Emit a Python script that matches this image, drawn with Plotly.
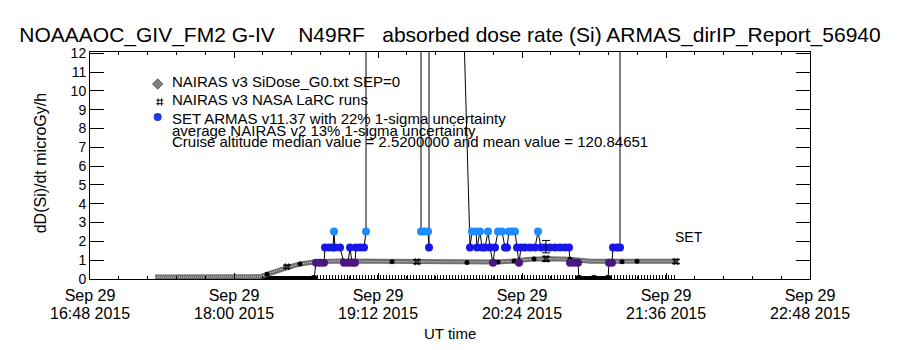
import plotly.graph_objects as go

DAY = "2015-09-29 "


def ts(lst):
    return [None if v is None else DAY + v for v in lst]


# ---------------- data ----------------
# x axis ticks
x_tick_times = ["16:48", "18:00", "19:12", "20:24", "21:36", "22:48"]
x_tick_day = ["Sep 29", "Sep 29", "Sep 29", "Sep 29", "Sep 29", "Sep 29"]
x_tick_clock = ["16:48 2015", "18:00 2015", "19:12 2015", "20:24 2015", "21:36 2015", "22:48 2015"]
y_tick_vals = [0, 1, 2, 3, 4, 5, 6, 7, 8, 9, 10, 11, 12]

# NAIRAS v3 SiDose_G0.txt SEP=0 (microGy/h)
nairas_times = ["17:20:30", "17:43:00", "18:13:00", "18:16:30", "18:21:30", "18:27:00", "18:33:00",
                "18:41:00", "18:53:00", "19:19:00", "19:38:00", "19:56:30", "20:12:00", "20:20:00",
                "20:28:00", "20:38:00", "20:48:00", "20:58:00", "21:14:00", "21:23:00", "21:41:30"]
nairas_dose = [0.10, 0.10, 0.12, 0.25, 0.45, 0.62, 0.80,
               0.92, 0.96, 0.92, 0.90, 0.88, 0.90, 0.96,
               1.05, 1.08, 1.05, 0.95, 0.92, 0.95, 0.95]

# NAIRAS v3 sample points marked on the curve
nairas_pt_times = ["18:16:30", "18:33:00", "18:41:00", "18:54:30", "19:19:00", "19:56:30",
                   "20:12:00", "20:20:00", "20:30:00", "20:48:00", "21:14:00", "21:21:30"]
nairas_pt_dose = [0.25, 0.80, 0.92, 0.96, 0.92, 0.88, 0.90, 0.96, 1.06, 1.05, 0.92, 0.95]

# NAIRAS v3 NASA LaRC runs (with 13% uncertainty)
larc_times = ["18:26:30", "19:31:30", "20:36:00", "21:41:00"]
larc_dose = [0.65, 0.92, 1.07, 0.93]
larc_err = [0.09, 0.12, 0.14, 0.12]

# SET ARMAS v11.37 dose rate (values > 12 are off scale)
armas_times = ["18:40:00", "18:41:00", "18:43:00", "18:45:00", "18:45:30", "18:47:30", "18:49:30",
               "18:50:00", "18:50:30", "18:53:00", "18:55:00", "18:57:00", "18:58:00", "18:59:00",
               "19:00:30", "19:01:00", "19:03:00", "19:05:00", "19:06:00", "19:06:30", "19:33:00",
               "19:33:30", "19:35:00", "19:37:00", "19:37:30", "19:38:00", "19:50:30", "19:58:00",
               "19:59:00", "20:01:00", "20:01:30", "20:03:00", "20:04:00", "20:05:30", "20:07:00",
               "20:08:00", "20:09:30", "20:10:30", "20:12:00", "20:14:00", "20:15:30", "20:16:30",
               "20:17:30", "20:19:00", "20:20:30", "20:21:30", "20:22:30", "20:23:30", "20:25:30",
               "20:28:00", "20:30:30", "20:32:00", "20:33:30", "20:35:30", "20:38:00", "20:40:30",
               "20:43:00", "20:45:30", "20:47:30", "20:48:00", "20:50:00", "20:52:00", "20:52:30",
               "21:00:00", "21:07:00", "21:07:30", "21:09:00", "21:09:30", "21:11:30", "21:13:00",
               "21:13:30"]
armas_dose = [0.0, 0.86, 0.86, 0.86, 1.67, 1.67, 1.67,
              2.52, 1.67, 1.67, 0.86, 0.86, 1.67, 0.86,
              0.86, 1.67, 1.67, 1.67, 2.52, 999.0, 999.0,
              2.52, 2.52, 2.52, 1.67, 999.0, 30.0, 1.67,
              2.52, 2.52, 1.67, 2.52, 1.67, 1.67, 2.52,
              1.67, 0.86, 1.67, 2.52, 2.52, 1.67, 1.67,
              2.52, 2.52, 2.52, 1.67, 0.86, 1.67, 1.67,
              1.67, 1.67, 2.52, 1.67, 1.67, 1.67, 1.67,
              1.67, 1.67, 1.67, 0.86, 0.86, 0.86, 0.0,
              0.0, 0.0, 0.86, 0.86, 1.67, 1.67, 1.67,
              999.0]

# ARMAS cruise mean with 1-sigma bar
armas_mean_time = ["20:36:00"]
armas_mean_dose = [1.72]
armas_mean_err = [0.33]

# zero-dose records along the baseline
base_solid_times = ["17:20:30", "18:41:30", None, "20:52:00", "21:07:00"]
base_solid_dose = [0, 0, None, 0, 0]
base_dot_times = ["18:41:30", "20:52:00", None, "21:07:00", "21:41:00"]
base_dot_dose = [0, 0, None, 0, 0]

title_text = ("NOAAAOC_GIV_FM2 G-IV\u00a0\u00a0\u00a0 N49RF\u00a0\u00a0 absorbed dose rate (Si) "
              "ARMAS_dirIP_Report_56940")
legend_labels = ["NAIRAS v3 SiDose_G0.txt SEP=0",
                 "NAIRAS v3 NASA LaRC runs",
                 "SET ARMAS v11.37 with 22% 1-sigma uncertainty",
                 "average NAIRAS v2 13% 1-sigma uncertainty",
                 "Cruise altitude median value = 2.5200000 and mean value = 120.84651"]

# ---------------- styling ----------------
FONT = "Liberation Sans, Arial, sans-serif"


def armas_color(v):
    if v < 0.5:
        return "#000000"
    if v < 1.2:
        return "#4d1580"
    if v < 2.1:
        return "#1717e8"
    return "#1e8cff"


fig = go.Figure()

fig.add_trace(go.Scatter(x=ts(base_solid_times), y=base_solid_dose, mode="lines",
                         line=dict(color="black", width=6), hoverinfo="skip"))
fig.add_trace(go.Scatter(x=ts(base_dot_times), y=base_dot_dose, mode="lines",
                         line=dict(color="black", width=8, dash="1px,2px"), hoverinfo="skip"))

fig.add_trace(go.Scatter(x=ts(nairas_times), y=nairas_dose, mode="lines",
                         line=dict(color="#6e6e6e", width=5)))
fig.add_trace(go.Scatter(x=ts(nairas_times), y=nairas_dose, mode="lines",
                         line=dict(color="white", width=1, dash="1px,1px"), opacity=0.7,
                         hoverinfo="skip"))
fig.add_trace(go.Scatter(x=ts(nairas_pt_times), y=nairas_pt_dose, mode="markers",
                         marker=dict(color="black", size=5)))

fig.add_trace(go.Scatter(x=ts(larc_times), y=larc_dose, mode="markers",
                         marker=dict(symbol="hash", size=7, color="black",
                                     line=dict(color="black", width=1)),
                         error_y=dict(type="data", array=larc_err, color="black",
                                      thickness=1, width=4)))

fig.add_trace(go.Scatter(x=ts(armas_times), y=armas_dose, mode="lines+markers",
                         line=dict(color="black", width=1),
                         marker=dict(size=8, color=[armas_color(v) for v in armas_dose])))

fig.add_trace(go.Scatter(x=ts(armas_mean_time), y=armas_mean_dose, mode="markers",
                         marker=dict(size=1, color="rgba(0,0,0,0)"),
                         error_y=dict(type="data", array=armas_mean_err, color="black",
                                      thickness=1, width=4)))

# legend symbols (overlay axes in plot-fraction units)
fig.add_trace(go.Scatter(x=[0.094], y=[0.859], xaxis="x2", yaxis="y2", mode="markers",
                         marker=dict(symbol="diamond", size=8, color="#808080",
                                     line=dict(color="black", width=0.5))))
fig.add_trace(go.Scatter(x=[0.097], y=[0.780], xaxis="x2", yaxis="y2", mode="markers",
                         marker=dict(symbol="hash", size=7, color="black",
                                     line=dict(color="black", width=1))))
fig.add_trace(go.Scatter(x=[0.094], y=[0.714], xaxis="x2", yaxis="y2", mode="markers",
                         marker=dict(symbol="circle", size=8, color="#1a3ce8")))

ann = []
leg_y = [0.868, 0.789, 0.705, 0.652, 0.604]
for txt, yy in zip(legend_labels, leg_y):
    ann.append(dict(text=txt, x=0.111, y=yy, xref="paper", yref="paper", xanchor="left",
                    yanchor="middle", showarrow=False, font=dict(size=15, color="black", family=FONT)))
ann.append(dict(text="SET", x=0.81, y=0.185, xref="paper", yref="paper", xanchor="left",
                yanchor="middle", showarrow=False, font=dict(size=14, color="black", family=FONT)))
ann.append(dict(text="dD(Si)/dt microGy/h", x=-0.069, y=0.511, xref="paper", yref="paper",
                xanchor="center", yanchor="middle", textangle=-90, showarrow=False,
                font=dict(size=16, color="black", family=FONT)))
ann.append(dict(text="UT time", x=0.5, y=-0.238, xref="paper", yref="paper",
                xanchor="center", yanchor="middle", showarrow=False,
                font=dict(size=15, color="black", family=FONT)))
# second line of the x tick labels
for t, lab in zip(x_tick_times, x_tick_clock):
    ann.append(dict(text=lab, x=DAY + t, y=-0.150, xref="x", yref="paper",
                    xanchor="center", yanchor="middle", showarrow=False,
                    font=dict(size=16, color="black", family=FONT)))

fig.update_layout(
    width=900, height=350,
    margin=dict(l=90, r=90, t=52, b=71, pad=0),
    paper_bgcolor="white", plot_bgcolor="white",
    showlegend=False,
    font=dict(family=FONT, color="black", size=15),
    title=dict(text=title_text, x=0.5, xref="container", xanchor="center",
               y=1 - 35 / 350, yref="container", yanchor="middle",
               font=dict(size=21, color="black", family=FONT)),
    xaxis=dict(type="date", range=[DAY + "16:48", DAY + "22:48"],
               tickvals=ts(x_tick_times), ticktext=x_tick_day,
               ticks="inside", ticklen=6, tickcolor="black", tickwidth=1,
               showline=True, linecolor="black", linewidth=1, mirror="ticks",
               showgrid=False, zeroline=False, ticklabelstandoff=2,
               tickfont=dict(size=16, color="black", family=FONT),
               minor=dict(ticks="inside", ticklen=3, tickcolor="black",
                          tick0=DAY + "16:48", dtick=864000, showgrid=False)),
    yaxis=dict(range=[0, 12.07], tickvals=y_tick_vals,
               ticks="inside", ticklen=14, tickcolor="black", tickwidth=1,
               showline=True, linecolor="black", linewidth=1, mirror="ticks",
               showgrid=False, zeroline=False,
               tickfont=dict(size=14, color="black", family=FONT)),
    xaxis2=dict(overlaying="x", range=[0, 1], visible=False, anchor="y2"),
    yaxis2=dict(overlaying="y", range=[0, 1], visible=False, anchor="x2"),
    annotations=ann,
)

fig.write_html("out.html")
